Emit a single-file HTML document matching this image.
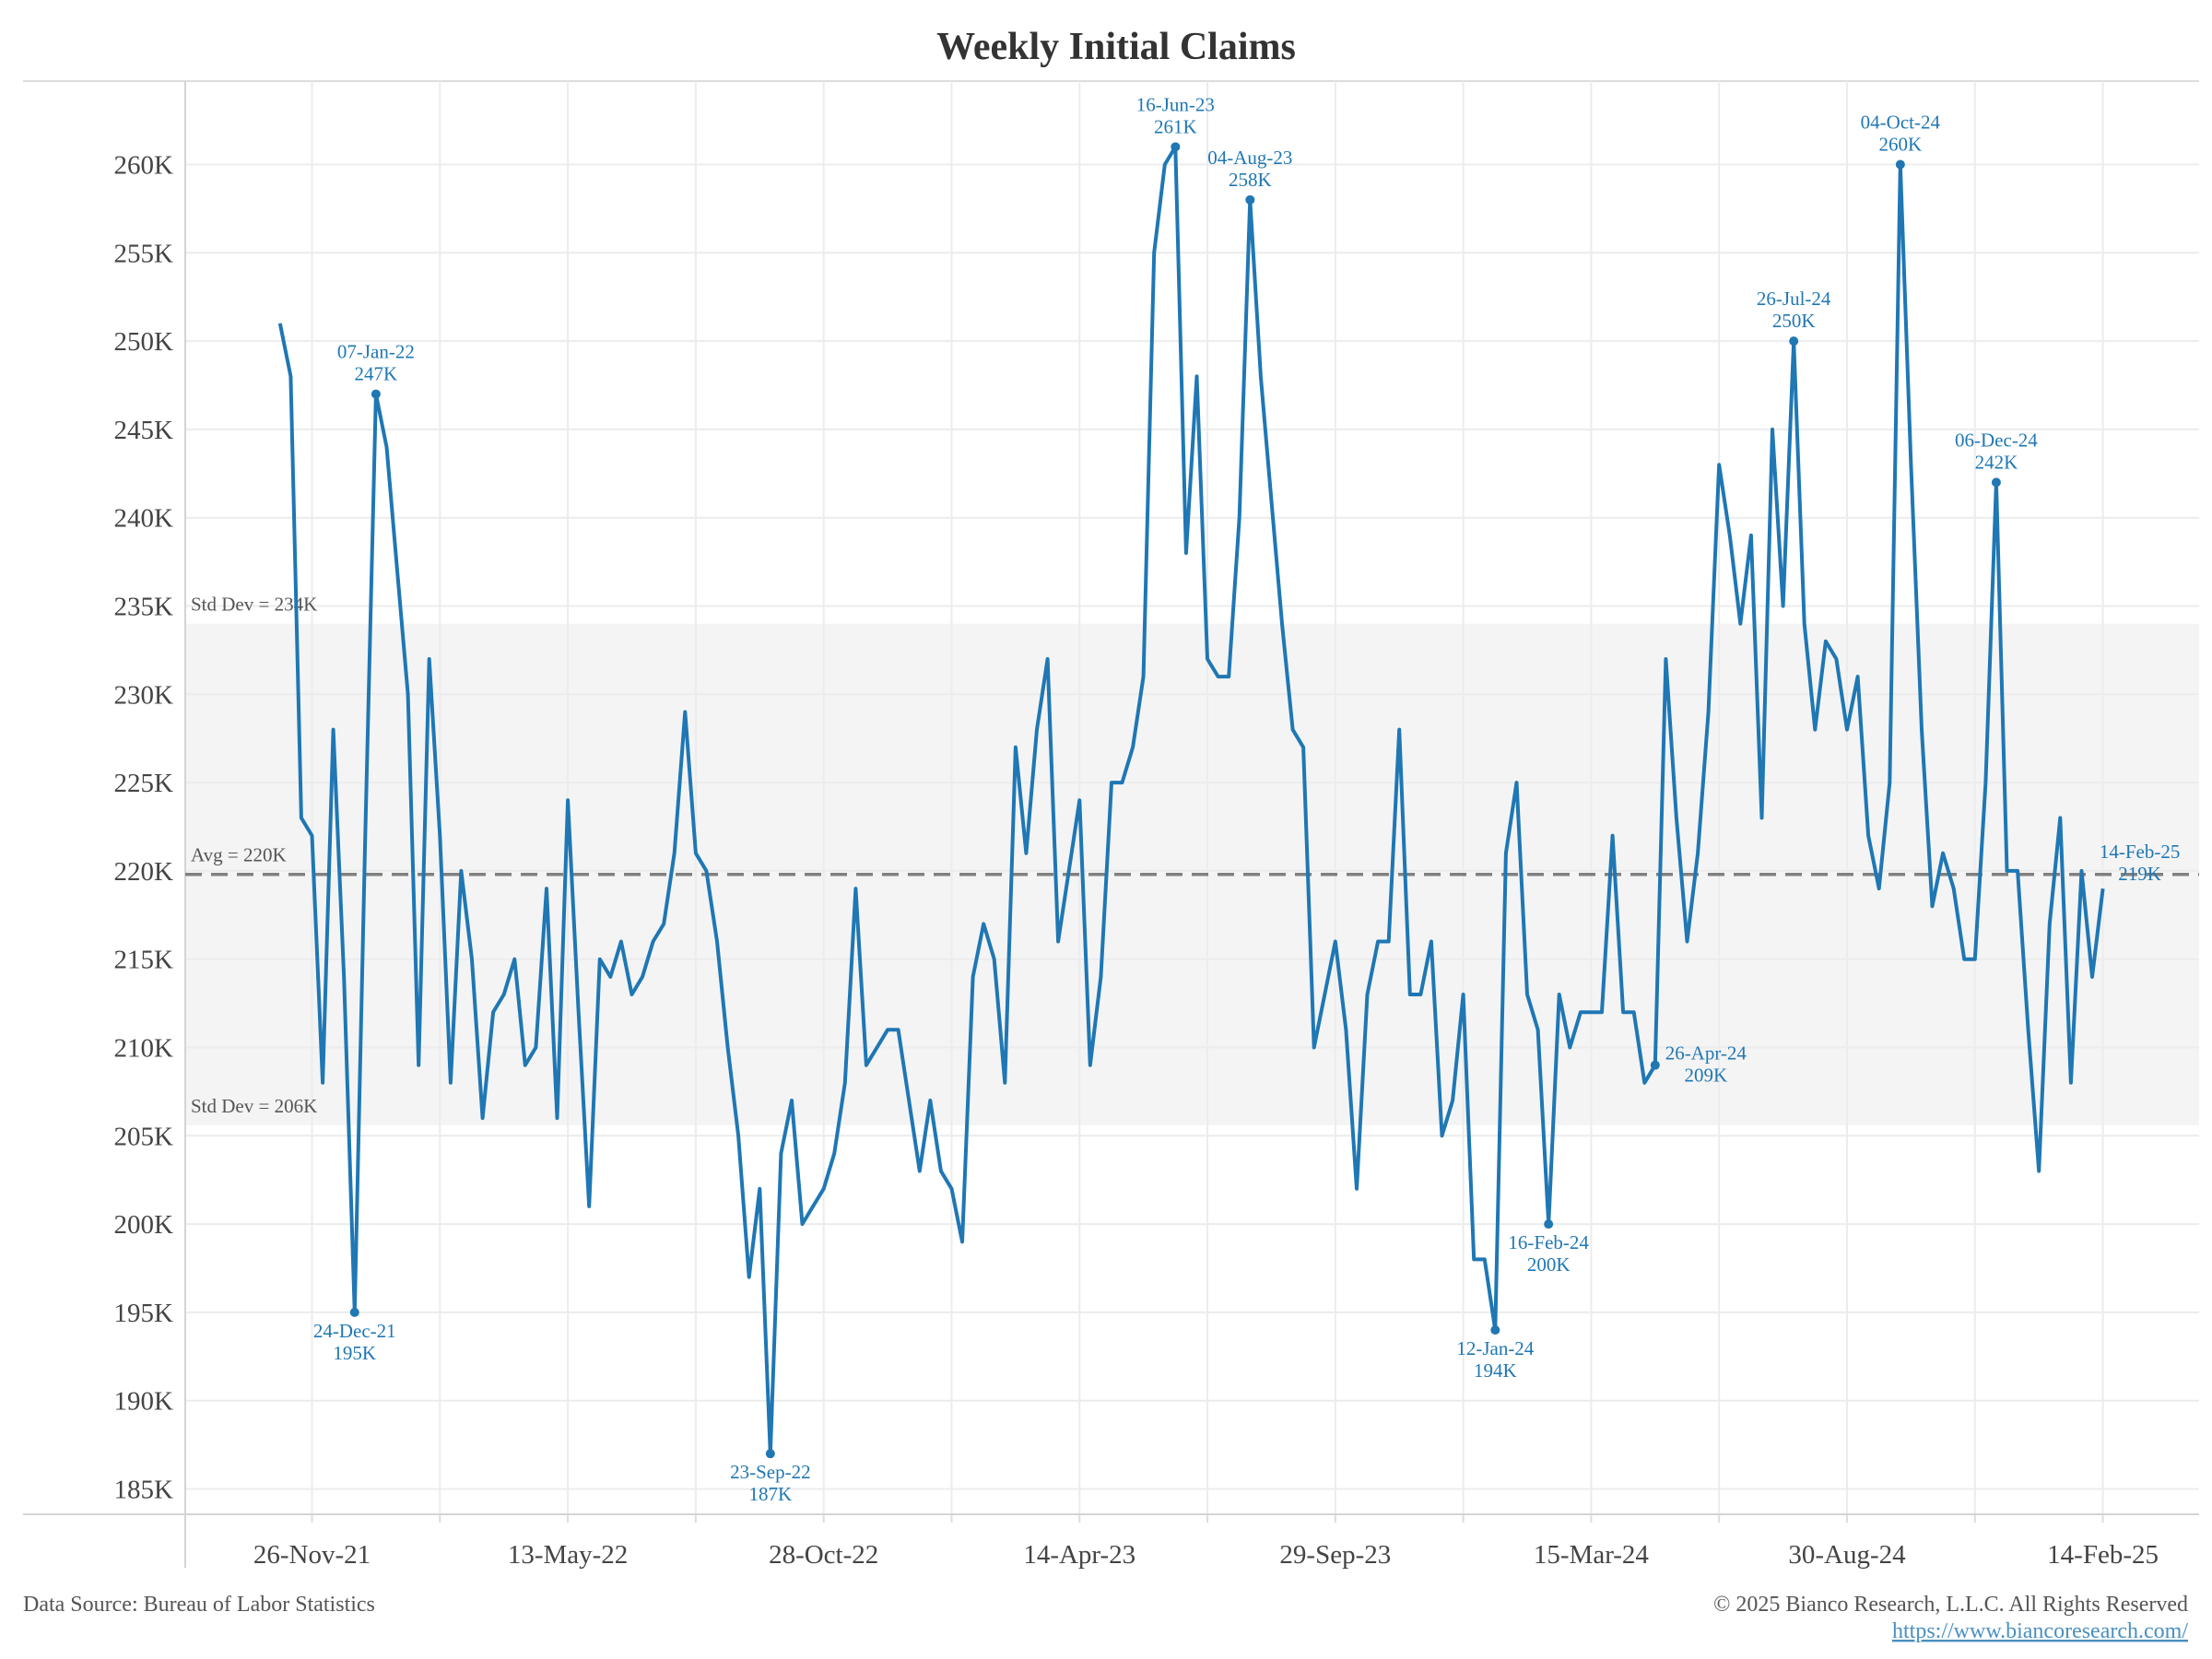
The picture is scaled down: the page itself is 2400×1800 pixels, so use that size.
<!DOCTYPE html>
<html><head><meta charset="utf-8"><style>
html,body{margin:0;padding:0;background:#fff;}
svg{display:block;font-family:"Liberation Serif",serif;}
</style></head><body>
<svg id="chart" width="2400" height="1800" viewBox="0 0 2400 1800" xmlns="http://www.w3.org/2000/svg">
<text x="1211" y="64" text-anchor="middle" font-size="42" font-weight="bold" fill="#333">Weekly Initial Claims</text>
<g id="grid"></g>
<g id="band"></g>
<g id="series"></g>
<g id="ann"></g>
<text x="25" y="1748" font-size="24" fill="#555">Data Source: Bureau of Labor Statistics</text>
<text x="2374" y="1748" text-anchor="end" font-size="24" fill="#555">© 2025 Bianco Research, L.L.C. All Rights Reserved</text>
<text x="2374" y="1777" text-anchor="end" font-size="24" fill="#4a8fc0" text-decoration="underline">https://www.biancoresearch.com/</text>
</svg>
<script>
const claimsValues=[251,248,223,222,208,228,214,195,222,247,244,237,230,209,232,222,208,220,215,206,212,213,215,209,210,219,206,224,212,201,215,214,216,213,214,216,217,221,229,221,220,216,210,205,
197,202,187,204,207,200,201,202,204,208,219,209,210,211,211,207,203,207,203,202,199,214,217,215,208,227,221,228,232,216,220,224,209,214,225,225,227,231,255,260,261,238,248,232,
231,231,240,258,248,241,234,228,227,210,213,216,211,202,213,216,216,228,213,213,216,205,207,213,198,198,194,221,225,213,211,200,213,210,212,212,212,222,212,212,208,209,
232,223,216,221,229,243,239,234,239,223,245,235,250,234,228,233,232,228,231,222,219,225,260,243,228,218,221,219,215,215,225,242,220,220,211,203,217,223,208,220,214,219];
const startDate=new Date(Date.UTC(2021,10,5));
const yTicks=[185,190,195,200,205,210,215,220,225,230,235,240,245,250,255,260];
const xTickLabels=["26-Nov-21","13-May-22","28-Oct-22","14-Apr-23","29-Sep-23","15-Mar-24","30-Aug-24","14-Feb-25"];
const xTickIndex=[3,27,51,75,99,123,147,171];
const annotatedIndex=[7,9,46,84,91,114,119,129,142,152,161,171];
const annotatedPos=["below","above","below","above","above","below","below","right","above","above","above","aboveright"];
const avgValue=219.8, sdHigh=234, sdLow=205.6;

const NS="http://www.w3.org/2000/svg";
const L=201,R=2386,T=88,B=1643;
function x(i){return 338.5+(i-3)*11.566;}
function y(v){return 178.5+(260-v)*19.16;}
function mk(tag,attrs,parent,txt){const e=document.createElementNS(NS,tag);for(const k in attrs)e.setAttribute(k,attrs[k]);if(txt!==undefined)e.textContent=txt;parent.appendChild(e);return e;}
const M=["Jan","Feb","Mar","Apr","May","Jun","Jul","Aug","Sep","Oct","Nov","Dec"];
function fmt(i){const d=new Date(startDate.getTime()+i*7*86400000);const dd=String(d.getUTCDate()).padStart(2,"0");return dd+"-"+M[d.getUTCMonth()]+"-"+String(d.getUTCFullYear()).slice(2);}

const grid=document.getElementById("grid");
mk("line",{x1:25,x2:R,y1:T,y2:T,stroke:"#ddd","stroke-width":2},grid);
yTicks.forEach(v=>{
  const g=mk("line",{x1:L,x2:R,y1:y(v),y2:y(v),stroke:"#ececec","stroke-width":2},grid);
  
  
  const t=mk("text",{x:188,y:y(v)+10,"text-anchor":"end","font-size":29,fill:"#444"},grid,v+"K");
  
  
});
for(let k=-1;k<=14;k++){
  const i=3+k*12;const xx=x(i);if(xx<=L+2||xx>=R)continue;
  const g=mk("line",{x1:xx,x2:xx,y1:T,y2:B,stroke:"#ececec","stroke-width":2},grid);
  
  
  const tk=mk("line",{x1:xx,x2:xx,y1:B,y2:B+9,stroke:"#ddd","stroke-width":2},grid);
  
  
}
xTickIndex.forEach((i,k)=>{
  const t=mk("text",{x:x(i),y:1696,"text-anchor":"middle","font-size":29,fill:"#444"},grid,xTickLabels[k]);
  
  
});
const ax=mk("line",{x1:25,x2:R,y1:B,y2:B,stroke:"#d4d4d4","stroke-width":2},grid);


const ay=mk("line",{x1:L,x2:L,y1:T,y2:1701,stroke:"#d4d4d4","stroke-width":2},grid);



const band=document.getElementById("band");
const sb=mk("rect",{x:L+1,y:y(sdHigh),width:R-L-1,height:y(sdLow)-y(sdHigh),fill:"#ececec","fill-opacity":0.6},band);


const av=mk("line",{x1:L,x2:R,y1:y(avgValue),y2:y(avgValue),stroke:"#808080","stroke-width":3.5,"stroke-dasharray":"18,10"},band);


[["Std Dev = "+sdHigh+"K",sdHigh,"std-dev-high-label"],["Avg = 220K",avgValue,"average-label"],["Std Dev = 206K",sdLow,"std-dev-low-label"]].forEach(a=>{
  const t=mk("text",{x:207,y:y(a[1])-14,"font-size":21,fill:"#555"},band,a[0]);
  
  
});

const series=document.getElementById("series");
const pts=claimsValues.map((v,i)=>x(i).toFixed(1)+","+y(v).toFixed(1)).join(" ");
const pl=mk("polyline",{points:pts,fill:"none",stroke:"#1f77b4","stroke-width":4,"stroke-linejoin":"round"},series);



const ann=document.getElementById("ann");
annotatedIndex.forEach((i,k)=>{
  const v=claimsValues[i],px=x(i),py=y(v),pos=annotatedPos[k];
  if(pos!=="aboveright"){
    const c=mk("circle",{cx:px,cy:py,r:5,fill:"#1f77b4"},ann);
    
    
  }
  let tx=px,ty1,ty2,anchor="middle";
  if(pos==="above"){ty1=py-39;ty2=py-15;}
  else if(pos==="below"){ty1=py+27;ty2=py+51;}
  else if(pos==="right"){tx=px+55;ty1=py-6;ty2=py+18;}
  else {tx=px+40;ty1=py-33;ty2=py-9;}
  const t1=mk("text",{x:tx,y:ty1,"text-anchor":anchor,"font-size":21,fill:"#1f77b4"},ann,fmt(i));
  
  
  const t2=mk("text",{x:tx,y:ty2,"text-anchor":anchor,"font-size":21,fill:"#1f77b4"},ann,v+"K");
  
  
});
</script>
</body></html>
